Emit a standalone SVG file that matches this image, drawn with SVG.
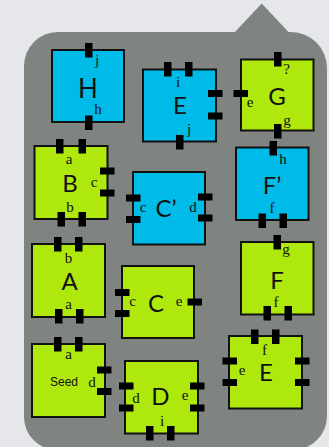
<svg xmlns="http://www.w3.org/2000/svg" xmlns:xlink="http://www.w3.org/1999/xlink" width="329" height="447" viewBox="0 0 329 447">
<style>
.bg{fill:#e5e7ea}
.callout{fill:#7f8481}
.blue{fill:#00bbe7;stroke:#111;stroke-width:2}
.green{fill:#afe80c;stroke:#111;stroke-width:2}
.port{fill:#000}
.big{font-family:Lato,"Open Sans","DejaVu Sans",sans-serif;font-size:24px;fill:#111;text-anchor:middle}
.lbl{font-family:"Liberation Serif","DejaVu Serif",serif;font-size:15px;fill:#111;text-anchor:middle}
.seed{font-family:"Liberation Sans",Arial,sans-serif;font-size:12px;fill:#111;text-anchor:middle}
</style>
<defs>
<rect id="pv" class="port" width="7.5" height="14.5"/>
<rect id="ph" class="port" width="14.5" height="7"/>
</defs>
<rect class="bg" x="0" y="0" width="329" height="447"/>
<path class="callout" d="M58,32 L235,32 L261.7,3.5 L288.5,32 L291,32 A36,36 0 0 1 327,68 L327,416 A34,34 0 0 1 293,450 L57,450 A33,33 0 0 1 24,417 L24,66 A34,34 0 0 1 58,32 Z"/>
<g id="connectors"/>
<g id="node-H">
<rect class="blue" x="52" y="50" width="72" height="72"/>
<use xlink:href="#pv" x="85" y="43"/>
<use xlink:href="#pv" x="85" y="115.5"/>
<text class="big" x="88" y="98" style="font-size:26px">H</text>
<text class="lbl" x="97" y="65">j</text>
<text class="lbl" x="98" y="114">h</text>
</g>
<g id="node-E-blue">
<rect class="blue" x="143" y="69.5" width="73" height="72"/>
<use xlink:href="#pv" x="164" y="62"/>
<use xlink:href="#pv" x="185" y="62"/>
<use xlink:href="#ph" x="208" y="90"/>
<use xlink:href="#ph" x="208" y="112.5"/>
<use xlink:href="#pv" x="176" y="135"/>
<text class="lbl" x="178" y="87">i</text>
<text class="big" x="180" y="114">E</text>
<text class="lbl" x="189" y="133.5">j</text>
</g>
<g id="node-G">
<rect class="green" x="241" y="59.5" width="72.5" height="71"/>
<use xlink:href="#pv" x="274" y="52"/>
<use xlink:href="#ph" x="233.5" y="90"/>
<use xlink:href="#pv" x="274" y="124"/>
<text class="lbl" x="286.5" y="74">?</text>
<text class="lbl" x="250" y="107">e</text>
<text class="big" x="277" y="105">G</text>
<text class="lbl" x="287" y="124.5">g</text>
</g>
<g id="node-B">
<rect class="green" x="34.5" y="146" width="73" height="73"/>
<use xlink:href="#pv" x="56" y="139"/>
<use xlink:href="#pv" x="78.5" y="139"/>
<use xlink:href="#ph" x="100" y="167.5"/>
<use xlink:href="#ph" x="100" y="189.5"/>
<use xlink:href="#pv" x="57.5" y="212"/>
<use xlink:href="#pv" x="78.5" y="212"/>
<text class="lbl" x="69" y="164">a</text>
<text class="big" x="70" y="192">B</text>
<text class="lbl" x="94" y="187">c</text>
<text class="lbl" x="70" y="212">b</text>
</g>
<g id="node-Cprime">
<rect class="blue" x="133" y="172" width="72" height="72.5"/>
<use xlink:href="#ph" x="126" y="194.5"/>
<use xlink:href="#ph" x="126" y="216"/>
<use xlink:href="#ph" x="198" y="193.5"/>
<use xlink:href="#ph" x="198" y="214.5"/>
<text class="lbl" x="143" y="212">c</text>
<text class="big" x="166" y="217">C’</text>
<text class="lbl" x="193" y="212">d</text>
</g>
<g id="node-Fprime">
<rect class="blue" x="236" y="147.5" width="72.5" height="72.5"/>
<use xlink:href="#pv" x="269.5" y="141"/>
<use xlink:href="#pv" x="258.5" y="213.5"/>
<use xlink:href="#pv" x="279.5" y="213.5"/>
<text class="lbl" x="283" y="163.5">h</text>
<text class="big" x="272" y="193.5">F’</text>
<text class="lbl" x="272" y="213">f</text>
</g>
<g id="node-A">
<rect class="green" x="32" y="244" width="73" height="73"/>
<use xlink:href="#pv" x="54" y="237"/>
<use xlink:href="#pv" x="75" y="237"/>
<use xlink:href="#pv" x="55" y="309"/>
<use xlink:href="#pv" x="76" y="309"/>
<text class="lbl" x="68.5" y="262.5">b</text>
<text class="big" x="69.5" y="289.5">A</text>
<text class="lbl" x="68.5" y="309">a</text>
</g>
<g id="node-C">
<rect class="green" x="122" y="266" width="72" height="72"/>
<use xlink:href="#ph" x="115" y="289"/>
<use xlink:href="#ph" x="115" y="310"/>
<use xlink:href="#ph" x="187.5" y="298.5"/>
<text class="lbl" x="132.5" y="306">c</text>
<text class="big" x="156" y="312">C</text>
<text class="lbl" x="179" y="306">e</text>
</g>
<g id="node-F">
<rect class="green" x="241" y="242" width="72.5" height="72.5"/>
<use xlink:href="#pv" x="273.5" y="235"/>
<use xlink:href="#pv" x="263.5" y="306"/>
<use xlink:href="#pv" x="284.5" y="306"/>
<text class="lbl" x="286" y="253.5">g</text>
<text class="big" x="277" y="288.5">F</text>
<text class="lbl" x="276" y="307">f</text>
</g>
<g id="node-Seed">
<rect class="green" x="32" y="344" width="73" height="73"/>
<use xlink:href="#pv" x="54" y="337"/>
<use xlink:href="#pv" x="75" y="337"/>
<use xlink:href="#ph" x="97" y="366.5"/>
<use xlink:href="#ph" x="97" y="388"/>
<text class="lbl" x="68.5" y="359">a</text>
<text class="seed" x="64" y="386">Seed</text>
<text class="lbl" x="92" y="387">d</text>
</g>
<g id="node-D">
<rect class="green" x="125" y="361" width="73" height="72.5"/>
<use xlink:href="#ph" x="119" y="382.5"/>
<use xlink:href="#ph" x="119" y="404.5"/>
<use xlink:href="#ph" x="190" y="382.5"/>
<use xlink:href="#ph" x="190" y="404.5"/>
<use xlink:href="#pv" x="146" y="426"/>
<use xlink:href="#pv" x="167" y="426"/>
<text class="lbl" x="136" y="403">d</text>
<text class="big" x="160.5" y="404.5">D</text>
<text class="lbl" x="185" y="400">e</text>
<text class="lbl" x="162" y="426">i</text>
</g>
<g id="node-E-green">
<rect class="green" x="229" y="336" width="73" height="72.5"/>
<use xlink:href="#pv" x="251" y="329.5"/>
<use xlink:href="#pv" x="272" y="329.5"/>
<use xlink:href="#ph" x="222.5" y="357.5"/>
<use xlink:href="#ph" x="222.5" y="379"/>
<use xlink:href="#ph" x="295" y="357.5"/>
<use xlink:href="#ph" x="295" y="379"/>
<text class="lbl" x="264.5" y="354.5">f</text>
<text class="lbl" x="242" y="375">e</text>
<text class="big" x="266" y="381">E</text>
</g>
</svg>
